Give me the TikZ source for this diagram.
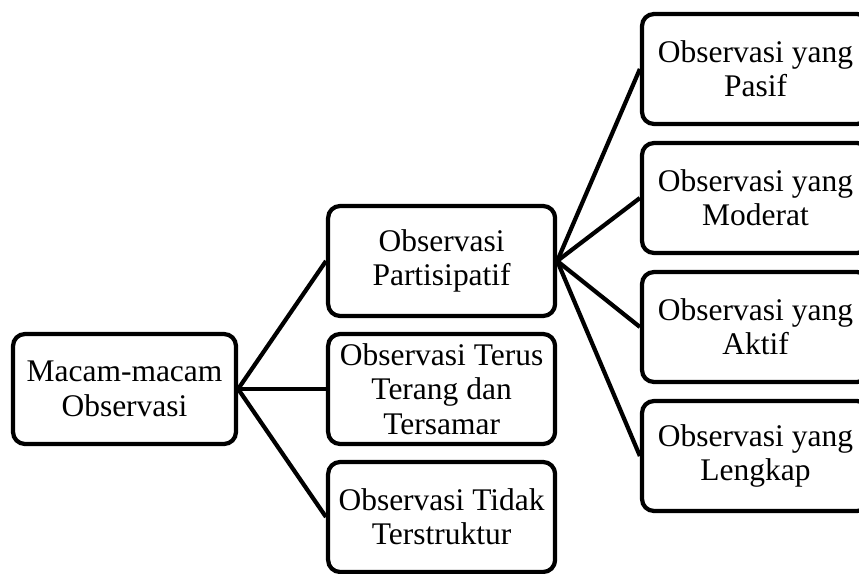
\documentclass[tikz,border=0pt]{standalone}
\usepackage{fontspec}
\setmainfont{Liberation Serif}

\tikzset{
  obsbox/.style={draw, line width=3pt, rounded corners=0.3cm, align=center,
    minimum width=5.675cm, minimum height=2.75cm, inner sep=0pt,
    font=\fontsize{22.4}{24.5}\selectfont},
  obslink/.style={line width=3pt}
}

\begin{document}
\begin{tikzpicture}
\useasboundingbox (0, 0) rectangle (21.475, -14.35);

\node[obsbox, minimum width=5.575cm] (macam) at (3.1125, -9.725) {Macam-macam\\Observasi};

\node[obsbox] (partisipatif) at (11.04, -6.525) {Observasi\\Partisipatif};
\node[obsbox] (terus) at (11.04, -9.725) {Observasi Terus\\Terang dan\\Tersamar};
\node[obsbox] (tidak) at (11.04, -12.925) {Observasi Tidak\\Terstruktur};

\node[obsbox] (pasif) at (18.8875, -1.725) {Observasi yang\\Pasif};
\node[obsbox] (moderat) at (18.8875, -4.95) {Observasi yang\\Moderat};
\node[obsbox] (aktif) at (18.8875, -8.175) {Observasi yang\\Aktif};
\node[obsbox] (lengkap) at (18.8875, -11.4) {Observasi yang\\Lengkap};

\draw[obslink] (macam.east) -- (partisipatif.west);
\draw[obslink] (macam.east) -- (terus.west);
\draw[obslink] (macam.east) -- (tidak.west);

\draw[obslink] (partisipatif.east) -- (pasif.west);
\draw[obslink] (partisipatif.east) -- (moderat.west);
\draw[obslink] (partisipatif.east) -- (aktif.west);
\draw[obslink] (partisipatif.east) -- (lengkap.west);

\end{tikzpicture}
\end{document}
